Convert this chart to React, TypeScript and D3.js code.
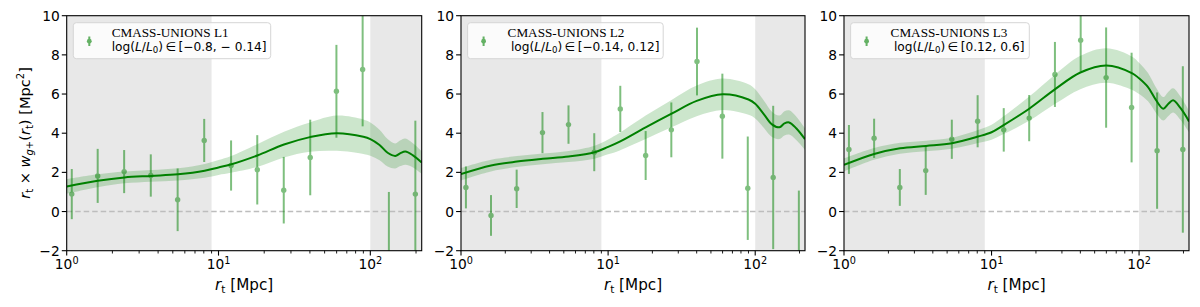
import React from "react";
import * as d3 from "d3";

// ---------- data ----------
const dataX = [1.08, 1.6, 2.39, 3.58, 5.38, 8.05, 12.1, 18.0, 26.9, 40.2, 59.8, 89.0, 132.5, 198];

const l1Y = [0.89, 1.82, 2.04, 1.84, 0.6, 3.63, 2.35, 2.13, 1.09, 2.76, 6.14, 7.25, -2.6, 0.89];
const l1Err = [1.28, 1.38, 1.1, 1.08, 1.6, 1.1, 1.28, 1.77, 1.7, 1.93, 2.37, 2.9, 3.6, 3.75];

const l2Y = [1.23, -0.2, 1.16, 4.03, 4.44, 3.03, 5.24, 2.86, 4.17, 7.66, 4.87, 1.19, 1.74, -2.6];
const l2Err = [1.07, 1.04, 0.98, 1.05, 0.98, 0.97, 1.18, 1.25, 1.4, 1.73, 2.17, 2.64, 3.66, 3.67];

const l3Y = [3.17, 3.74, 1.23, 2.09, 3.69, 4.61, 4.17, 4.77, 7.0, 8.75, 6.84, 5.31, 3.11, 3.17];
const l3Err = [1.25, 1.0, 0.94, 1.24, 1.0, 1.33, 1.11, 1.18, 1.66, 1.6, 2.56, 2.8, 2.97, 4.25];

const modelX = [1, 1.6, 2.4, 3.6, 5.4, 8.1, 10, 12, 18, 27, 40, 60, 90, 100, 115, 130, 146, 158, 170, 190, 218];

const m1Y = [1.28, 1.57, 1.74, 1.82, 1.9, 2.08, 2.25, 2.4, 2.86, 3.42, 3.8, 4.0, 3.82, 3.7, 3.4, 3.0, 2.84, 2.98, 3.06, 2.88, 2.5];
const m1Err = [0.37, 0.33, 0.3, 0.3, 0.31, 0.35, 0.38, 0.42, 0.58, 0.66, 0.75, 0.9, 0.88, 0.85, 0.78, 0.7, 0.64, 0.66, 0.67, 0.62, 0.58];

const m2Y = [1.91, 2.35, 2.55, 2.69, 2.81, 3.03, 3.3, 3.57, 4.3, 5.0, 5.65, 5.99, 5.72, 5.5, 4.95, 4.45, 4.3, 4.5, 4.55, 4.25, 3.69];
const m2Err = [0.32, 0.3, 0.28, 0.27, 0.28, 0.33, 0.38, 0.45, 0.6, 0.7, 0.78, 0.8, 0.78, 0.75, 0.7, 0.65, 0.6, 0.62, 0.62, 0.6, 0.55];

const m3Y = [2.38, 2.94, 3.23, 3.35, 3.49, 3.83, 4.05, 4.4, 5.25, 6.25, 7.1, 7.46, 7.06, 6.8, 6.35, 5.7, 5.25, 5.5, 5.68, 5.3, 4.6];
const m3Err = [0.33, 0.3, 0.28, 0.27, 0.28, 0.33, 0.38, 0.45, 0.62, 0.75, 0.85, 0.88, 0.85, 0.8, 0.72, 0.65, 0.6, 0.62, 0.62, 0.6, 0.55];

const shadeRanges = [[1, 9], [100, 218]];
const yTicks = [-2, 0, 2, 4, 6, 8, 10];
const xMajor = [1, 10, 100];
const xExps = ["0", "1", "2"];

const legendTitles = ["CMASS-UNIONS L1", "CMASS-UNIONS L2", "CMASS-UNIONS L3"];
const legendRanges = ["[\u22120.8, \u2212 0.14]", "[\u22120.14, 0.12]", "[0.12, 0.6]"];

// ---------- layout ----------
const TOP = 15.7;
const BOTTOM = 250.7;
const panels = [
  { left: 66.7, right: 421.7, y: l1Y, e: l1Err, my: m1Y, me: m1Err, legW: 197.4, legTx: 38.4, legTx2: 38.4 },
  { left: 461, right: 805, y: l2Y, e: l2Err, my: m2Y, me: m2Err, legW: 195.6, legTx: 40, legTx2: 43.3 },
  { left: 844, right: 1189, y: l3Y, e: l3Err, my: m3Y, me: m3Err, legW: 178.7, legTx: 40, legTx2: 43.3 },
];

const GREEN = "#008000";
const SANS = "DejaVu Sans";

function Panel({ p, idx }: { p: any; idx: number }) {
  const x = d3.scaleLog().domain([1, 218]).range([p.left, p.right]);
  const y = d3.scaleLinear().domain([-2, 10]).range([BOTTOM, TOP]);
  const clipId = `clip${idx}`;

  const line = d3
    .line<number>()
    .x((_, i) => x(modelX[i]))
    .y((v) => y(v))
    .curve(d3.curveCatmullRom.alpha(0.5));
  const area = d3
    .area<number>()
    .x((_, i) => x(modelX[i]))
    .y0((v, i) => y(v - p.me[i]))
    .y1((v, i) => y(v + p.me[i]))
    .curve(d3.curveCatmullRom.alpha(0.5));

  const minor: number[] = [];
  for (const d of [1, 10, 100]) {
    for (let k = 2; k <= 9; k++) {
      const v = k * d;
      if (v < 218) minor.push(v);
    }
  }

  const legX = p.left + 6.6;
  const legY = 22.7;

  return (
    <g>
      <defs>
        <clipPath id={clipId}>
          <rect x={p.left} y={TOP} width={p.right - p.left} height={BOTTOM - TOP} />
        </clipPath>
      </defs>
      <g clipPath={`url(#${clipId})`}>
        {shadeRanges.map((r, i) => (
          <rect
            key={i}
            x={x(r[0])}
            y={TOP}
            width={x(r[1]) - x(r[0])}
            height={BOTTOM - TOP}
            fill="#808080"
            fillOpacity={0.18}
          />
        ))}
        <line
          x1={p.left}
          x2={p.right}
          y1={y(0)}
          y2={y(0)}
          stroke="#bdbdbd"
          strokeWidth={1.4}
          strokeDasharray="5.5,3"
        />
        <path d={area(p.my) || ""} fill={GREEN} fillOpacity={0.2} />
        <path d={line(p.my) || ""} fill="none" stroke={GREEN} strokeWidth={2} />
        {dataX.map((xv, i) => (
          <g key={i} opacity={0.5}>
            <line
              x1={x(xv)}
              x2={x(xv)}
              y1={y(p.y[i] - p.e[i])}
              y2={y(p.y[i] + p.e[i])}
              stroke={GREEN}
              strokeWidth={2}
            />
            <circle cx={x(xv)} cy={y(p.y[i])} r={2.7} fill={GREEN} />
          </g>
        ))}
      </g>
      {/* frame */}
      <rect
        x={p.left}
        y={TOP}
        width={p.right - p.left}
        height={BOTTOM - TOP}
        fill="none"
        stroke="#000"
        strokeWidth={1.1}
      />
      {/* y ticks */}
      {yTicks.map((t) => (
        <g key={t}>
          <line x1={p.left - 4.9} x2={p.left} y1={y(t)} y2={y(t)} stroke="#000" strokeWidth={1.1} />
          <text
            x={p.left - 7}
            y={y(t)}
            dy="0.36em"
            textAnchor="end"
            fontFamily={SANS}
            fontSize={13.8}
            fill="#000"
          >
            {t < 0 ? `\u2212${Math.abs(t)}` : `${t}`}
          </text>
        </g>
      ))}
      {/* x ticks */}
      {minor.map((t) => (
        <line key={t} x1={x(t)} x2={x(t)} y1={BOTTOM} y2={BOTTOM + 2.8} stroke="#000" strokeWidth={0.9} />
      ))}
      {xMajor.map((t, i) => (
        <g key={t}>
          <line x1={x(t)} x2={x(t)} y1={BOTTOM} y2={BOTTOM + 4.9} stroke="#000" strokeWidth={1.1} />
          <text
            x={x(t)}
            y={269}
            textAnchor="middle"
            fontFamily={SANS}
            fontSize={13.8}
            fill="#000"
          >
            10
            <tspan fontSize={9.7} dy={-5.5}>
              {xExps[i]}
            </tspan>
          </text>
        </g>
      ))}
      {/* x label */}
      <text
        x={(p.left + p.right) / 2}
        y={289.5}
        textAnchor="middle"
        fontFamily={SANS}
        fontSize={15.2}
        fill="#000"
      >
        <tspan fontStyle="italic">r</tspan>
        <tspan fontSize={10.5} dy={3}>
          t
        </tspan>
        <tspan dy={-3}> [Mpc]</tspan>
      </text>
      {/* legend */}
      <rect
        x={legX}
        y={legY}
        width={p.legW}
        height={36}
        rx={3}
        fill="#fff"
        fillOpacity={0.8}
        stroke="#d6d6d6"
        strokeWidth={1}
      />
      <g opacity={0.6}>
        <line x1={legX + 16} x2={legX + 16} y1={36.5} y2={46} stroke={GREEN} strokeWidth={2} />
        <circle cx={legX + 16} cy={41.2} r={2.4} fill={GREEN} />
      </g>
      <text x={legX + p.legTx} y={36.6} fontFamily="Liberation Serif" fontSize={13.2} fill="#000">
        {legendTitles[idx]}
      </text>
      <text x={legX + p.legTx2} y={50.6} fontFamily={SANS} fontSize={12.2} fill="#000">
        log(
        <tspan fontStyle="italic">L</tspan>/<tspan fontStyle="italic">L</tspan>
        <tspan fontSize={8.6} dy={2.5}>
          0
        </tspan>
        <tspan dy={-2.5}>){"\u2009\u2208\u2009"}{legendRanges[idx]}</tspan>
      </text>
    </g>
  );
}

export default function App() {
  return (
    <svg
      width={1200}
      height={307}
      viewBox="0 0 1200 307"
      style={{ position: "absolute", left: 0, top: 0, background: "#fff" }}
    >
      <rect x={0} y={0} width={1200} height={307} fill="#fff" />
      {panels.map((p, i) => (
        <Panel key={i} p={p} idx={i} />
      ))}
      {/* y label */}
      <text
        transform="translate(30,133) rotate(-90)"
        textAnchor="middle"
        fontFamily={SANS}
        fontSize={14.6}
        fill="#000"
      >
        <tspan fontStyle="italic">r</tspan>
        <tspan fontSize={10} dy={3}>t</tspan>
        <tspan dy={-3}>{" \u00d7 "}</tspan>
        <tspan fontStyle="italic">w</tspan>
        <tspan fontSize={10} dy={3}>
          <tspan fontStyle="italic">g</tspan>+
        </tspan>
        <tspan dy={-3}>(</tspan>
        <tspan fontStyle="italic">r</tspan>
        <tspan fontSize={10} dy={3}>t</tspan>
        <tspan dy={-3}>) [Mpc</tspan>
        <tspan fontSize={10} dy={-6}>2</tspan>
        <tspan dy={6}>]</tspan>
      </text>
    </svg>
  );
}
